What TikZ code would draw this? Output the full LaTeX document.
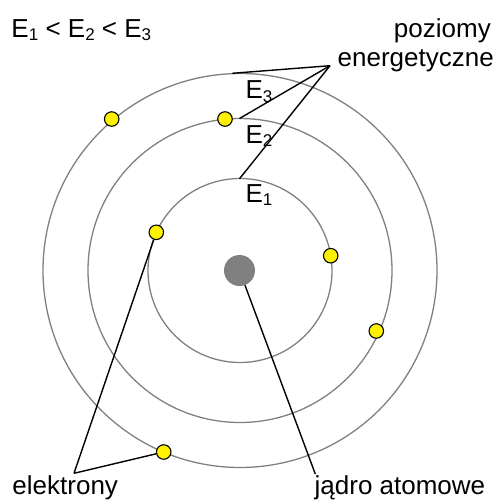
\documentclass[tikz,border=0pt]{standalone}
\usepackage{fontspec}
\setmainfont{Liberation Sans}
\newcommand\lowsub[1]{\raisebox{-3.5pt}{\fontsize{17}{17}\selectfont #1}}
\begin{document}
\begin{tikzpicture}[x=1pt,y=-1pt,
  orbit/.style={draw=orbitgray,line width=1.3pt},
  conn/.style={draw=black,line width=1.4pt},
  electron/.style={circle,draw=black,line width=1.1pt,fill=yellow,minimum size=14.5pt,inner sep=0pt},
  nucleus/.style={circle,fill=orbitgray,minimum size=31pt,inner sep=0pt},
  lbl/.style={inner sep=0pt,font=\fontsize{26}{30}\selectfont}]
\definecolor{orbitgray}{RGB}{128,128,128}
\useasboundingbox (0,0) rectangle (498,504);
\coordinate (c) at (240,270.5);
% orbits
\draw[orbit] (c) circle[radius=92];
\draw[orbit] (c) circle[radius=152];
\draw[orbit] (c) circle[radius=197];
% nucleus
\node[nucleus] (nuc) at (239.5,270.5) {};
% connector points
\coordinate (hubE) at (330,65.7);
\coordinate (top3) at (232.3,73.3);
\coordinate (top2) at (239.5,118.5);
\coordinate (top1) at (239.5,178.8);
\coordinate (hubel) at (74,473.3);
\coordinate (nucend) at (315.3,474);
% electrons
\node[electron] (e1) at (111.7,119) {};
\node[electron] (e2) at (225,119) {};
\node[electron] (e3) at (156.3,232.3) {};
\node[electron] (e4) at (330.7,255.7) {};
\node[electron] (e5) at (376.3,331) {};
\node[electron] (e6) at (163.7,452) {};
% connectors
\draw[conn] (hubE) -- (top3);
\draw[conn] (hubE) -- (top2);
\draw[conn] (hubE) -- (top1);
\draw[conn] (hubel) -- (e3);
\draw[conn] (hubel) -- (e6);
\draw[conn] (nuc) -- (nucend);
% labels
\node[lbl,anchor=base west] (rel) at (11.3,37) {E\lowsub{1} < E\lowsub{2} < E\lowsub{3}};
\node[lbl,anchor=base west] (E3) at (245.3,98.6) {E\lowsub{3}};
\node[lbl,anchor=base west] (E2) at (245.3,143.2) {E\lowsub{2}};
\node[lbl,anchor=base west] (E1) at (245.3,202.3) {E\lowsub{1}};
\node[lbl,anchor=base east] (poz) at (491,37.2) {poziomy};
\node[lbl,anchor=base east] (ener) at (494,66.4) {energetyczne};
\node[lbl,anchor=base west] (elek) at (12.3,494) {elektrony};
\node[lbl,anchor=base west] (jadro) at (314.5,494) {jądro atomowe};
\end{tikzpicture}
\end{document}
